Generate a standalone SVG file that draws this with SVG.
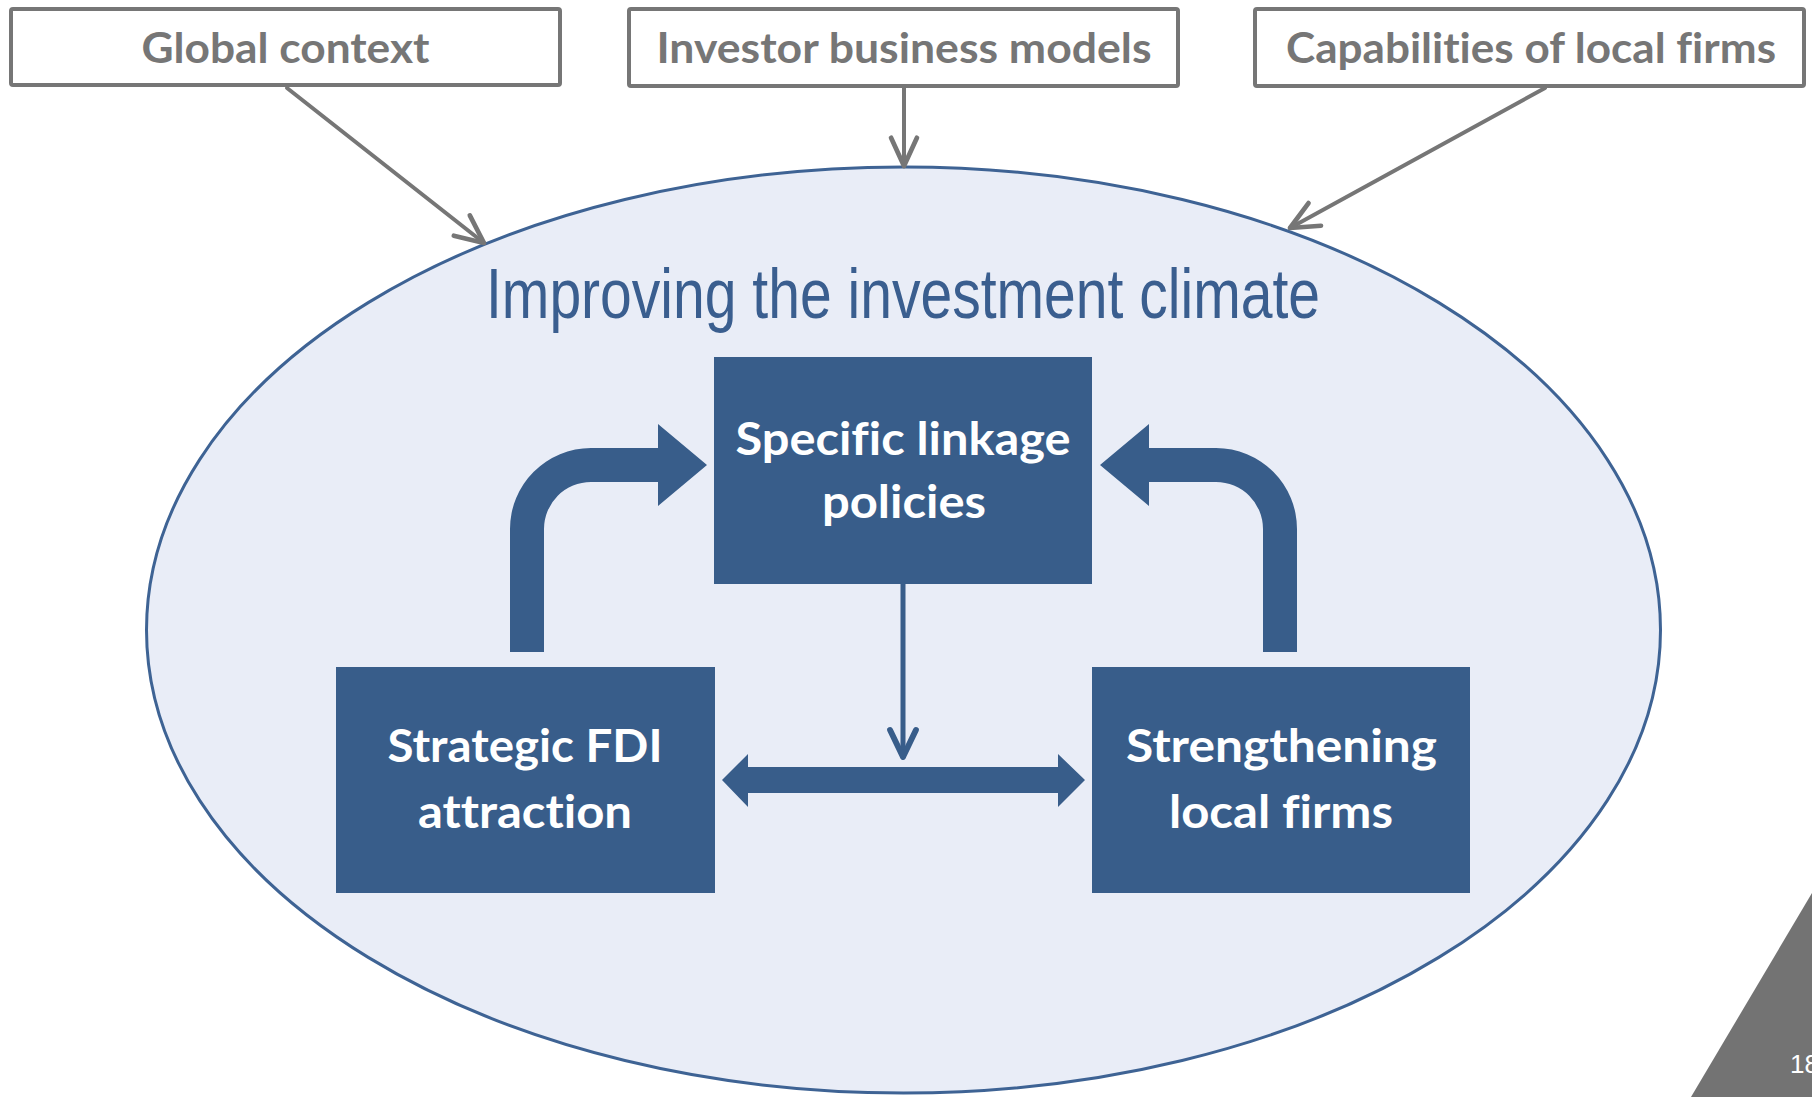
<svg xmlns="http://www.w3.org/2000/svg" width="1812" height="1097" viewBox="0 0 1812 1097">
  <defs>
    <style>
      .ctx-box { fill: #ffffff; stroke: #767676; stroke-width: 4; }
      .ctx-text { font-family: Lato, "Open Sans", "Liberation Sans", sans-serif; font-weight: 700; font-size: 42px; fill: #767676; text-anchor: middle; font-variant-ligatures: none; }
      .ctx-link { stroke: #767676; stroke-width: 4; fill: none; stroke-linecap: round; }
      .node-box { fill: #385D8A; }
      .node-text { font-family: Lato, "Open Sans", "Liberation Sans", sans-serif; font-weight: 700; font-size: 45px; fill: #ffffff; text-anchor: middle; font-variant-ligatures: none; }
      .block-arrow { fill: #385D8A; }
      .thin-link { stroke: #385D8A; stroke-width: 5; fill: none; stroke-linecap: round; }
      .title { font-family: "Liberation Sans", Arial, sans-serif; font-size: 70px; fill: #3A5E8F; text-anchor: middle; }
    </style>
    <marker id="chev-gray" markerUnits="userSpaceOnUse" markerWidth="40" markerHeight="40" viewBox="-30 -15 34 30" refX="0" refY="0" orient="auto">
      <path d="M-24,-11 L0,0 L-24,11" fill="none" stroke="#767676" stroke-width="4" stroke-linecap="round" stroke-linejoin="round"/>
    </marker>
    <marker id="chev-blue" markerUnits="userSpaceOnUse" markerWidth="40" markerHeight="40" viewBox="-30 -15 34 30" refX="0" refY="0" orient="auto">
      <path d="M-23,-11 L0,0 L-23,11" fill="none" stroke="#385D8A" stroke-width="5" stroke-linecap="round" stroke-linejoin="round"/>
    </marker>
  </defs>

  <rect x="0" y="0" width="1812" height="1097" fill="#ffffff"/>

  <!-- investment climate ellipse -->
  <g id="investment-climate">
    <ellipse cx="903.5" cy="630" rx="757" ry="463" fill="#E9EDF7" stroke="#3E6394" stroke-width="3"/>
    <text class="title" x="903" y="318" textLength="834" lengthAdjust="spacingAndGlyphs">Improving the investment climate</text>
  </g>

  <!-- context boxes -->
  <g id="global-context">
    <rect class="ctx-box" x="11" y="9" width="549" height="76" rx="2"/>
    <text class="ctx-text" x="285.5" y="63" textLength="288" lengthAdjust="spacingAndGlyphs">Global context</text>
  </g>
  <g id="investor-business-models">
    <rect class="ctx-box" x="629" y="9" width="549" height="77" rx="2"/>
    <text class="ctx-text" x="904" y="63" textLength="495" lengthAdjust="spacingAndGlyphs">Investor business models</text>
  </g>
  <g id="capabilities-local-firms">
    <rect class="ctx-box" x="1255" y="9" width="549" height="77" rx="2"/>
    <text class="ctx-text" x="1531" y="63" textLength="490" lengthAdjust="spacingAndGlyphs">Capabilities of local firms</text>
  </g>

  <!-- inner policy boxes -->
  <g id="specific-linkage-policies">
    <rect class="node-box" x="714" y="357" width="378" height="227"/>
    <text class="node-text" x="903" y="455" textLength="335" lengthAdjust="spacingAndGlyphs">Specific linkage</text>
    <text class="node-text" x="904" y="518" textLength="164" lengthAdjust="spacingAndGlyphs">policies</text>
  </g>
  <g id="strategic-fdi-attraction">
    <rect class="node-box" x="336" y="667" width="379" height="226"/>
    <text class="node-text" x="525" y="762" textLength="275" lengthAdjust="spacingAndGlyphs">Strategic FDI</text>
    <text class="node-text" x="525" y="828" textLength="214" lengthAdjust="spacingAndGlyphs">attraction</text>
  </g>
  <g id="strengthening-local-firms">
    <rect class="node-box" x="1092" y="667" width="378" height="226"/>
    <text class="node-text" x="1281.5" y="762" textLength="311" lengthAdjust="spacingAndGlyphs">Strengthening</text>
    <text class="node-text" x="1281" y="828" textLength="224" lengthAdjust="spacingAndGlyphs">local firms</text>
  </g>

  <!-- connectors -->
  <g id="connectors">
    <line class="ctx-link" x1="287" y1="88" x2="484" y2="243" marker-end="url(#chev-gray)"/>
    <line class="ctx-link" x1="904" y1="88" x2="904" y2="166" marker-end="url(#chev-gray)"/>
    <line class="ctx-link" x1="1545" y1="88" x2="1290" y2="228" marker-end="url(#chev-gray)"/>

    <line class="thin-link" x1="903" y1="584" x2="903" y2="757" marker-end="url(#chev-blue)"/>

    <path class="block-arrow" d="M510,652 L510,529 A81,81 0 0 1 591,448 L658,448 L658,424 L707,465 L658,506 L658,482 L591,482 A47,47 0 0 0 544,529 L544,652 Z"/>
    <path class="block-arrow" transform="translate(1807,0) scale(-1,1)" d="M510,652 L510,529 A81,81 0 0 1 591,448 L658,448 L658,424 L707,465 L658,506 L658,482 L591,482 A47,47 0 0 0 544,529 L544,652 Z"/>

    <polygon class="block-arrow" points="722,780 748,754 748,767 1058,767 1058,754 1085,780 1058,807 1058,793 748,793 748,807"/>
  </g>

  <!-- page corner with slide number, cut by the right edge -->
  <polygon points="1691,1097 1812,893 1812,1097" fill="#737373"/>
  <text x="1790" y="1073" font-family="Liberation Sans, Arial, sans-serif" font-size="26" fill="#ffffff">18</text>
</svg>
